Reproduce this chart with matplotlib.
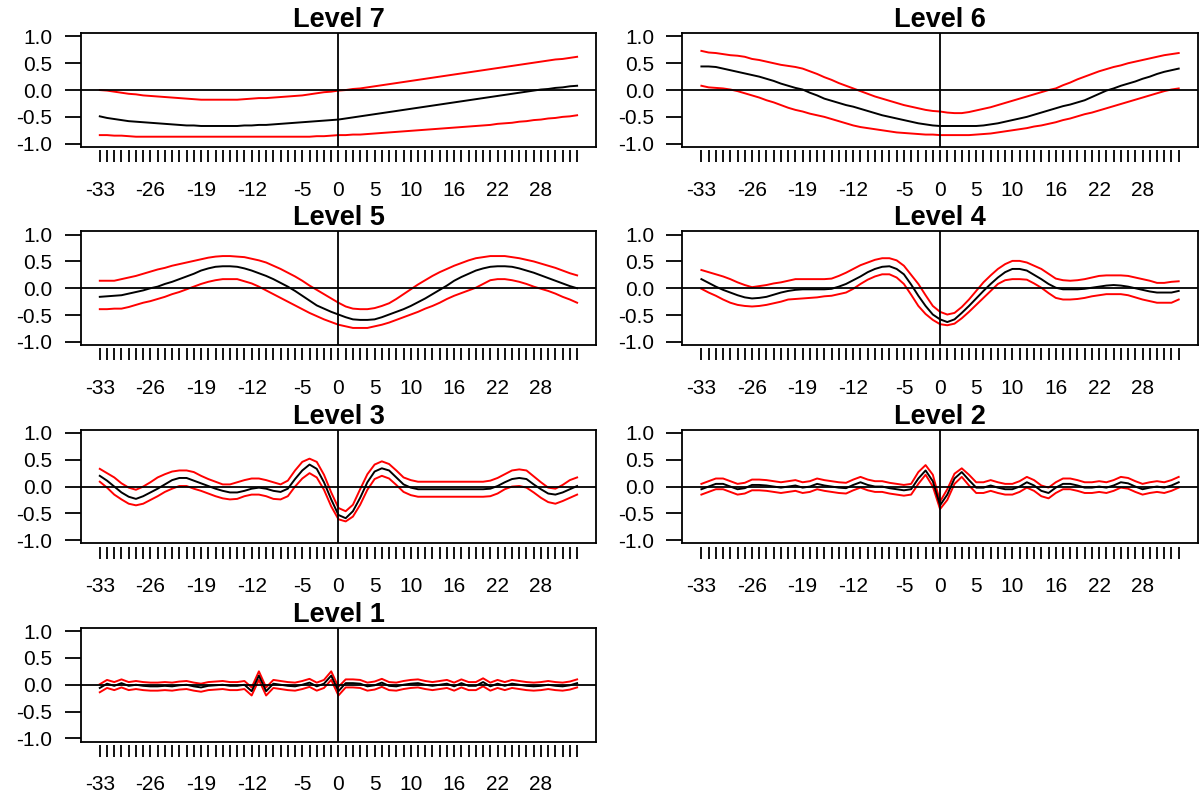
import matplotlib
matplotlib.use("Agg")
import matplotlib.pyplot as plt

plt.rcParams['font.family'] = ['Liberation Sans', 'DejaVu Sans']

lags = list(range(-33, 34))
label_lags = [-33, -26, -19, -12, -5, 0, 5, 10, 16, 22, 28]
ytick_vals = [-1.0, -0.5, 0.0, 0.5, 1.0]
ytick_labels = ["-1.0", "-0.5", "0.0", "0.5", "1.0"]
titles = ["Level 7", "Level 6", "Level 5", "Level 4", "Level 3", "Level 2", "Level 1"]

L7_est = [-0.49, -0.52, -0.54, -0.56, -0.58, -0.59, -0.60, -0.61, -0.62, -0.63, -0.64, -0.65, -0.66, -0.66, -0.67, -0.67, -0.67,
          -0.67, -0.67, -0.67, -0.66, -0.66, -0.65, -0.65, -0.64, -0.63, -0.62, -0.61, -0.60, -0.59, -0.58, -0.57, -0.56,
          -0.55, -0.53, -0.51, -0.49, -0.47, -0.45, -0.43, -0.41, -0.39, -0.37, -0.35, -0.33, -0.31, -0.29, -0.27, -0.25,
          -0.23, -0.21, -0.19, -0.17, -0.15, -0.13, -0.11, -0.09, -0.07, -0.05, -0.03, -0.01, 0.01, 0.02, 0.04, 0.05, 0.07, 0.08]
L7_up = [0.00, -0.01, -0.03, -0.05, -0.07, -0.08, -0.10, -0.11, -0.12, -0.13, -0.14, -0.15, -0.16, -0.17, -0.18, -0.18, -0.18,
         -0.18, -0.18, -0.18, -0.17, -0.16, -0.15, -0.15, -0.14, -0.13, -0.12, -0.11, -0.10, -0.08, -0.06, -0.04, -0.03,
         -0.01, 0.00, 0.02, 0.03, 0.05, 0.07, 0.09, 0.11, 0.13, 0.15, 0.17, 0.19, 0.21, 0.23, 0.25, 0.27,
         0.29, 0.31, 0.33, 0.35, 0.37, 0.39, 0.41, 0.43, 0.45, 0.47, 0.49, 0.51, 0.53, 0.55, 0.57, 0.58, 0.60, 0.62]
L7_lo = [-0.84, -0.84, -0.85, -0.85, -0.86, -0.87, -0.87, -0.87, -0.87, -0.87, -0.87, -0.87, -0.87, -0.87, -0.87, -0.87, -0.87,
         -0.87, -0.87, -0.87, -0.87, -0.87, -0.87, -0.87, -0.87, -0.87, -0.87, -0.87, -0.87, -0.87, -0.86, -0.86, -0.85,
         -0.84, -0.84, -0.83, -0.83, -0.82, -0.81, -0.80, -0.79, -0.78, -0.77, -0.76, -0.75, -0.74, -0.73, -0.72, -0.71,
         -0.70, -0.69, -0.68, -0.67, -0.66, -0.65, -0.63, -0.62, -0.61, -0.59, -0.58, -0.56, -0.55, -0.53, -0.52, -0.50, -0.49, -0.47]

L6_est = [0.44, 0.44, 0.43, 0.40, 0.37, 0.34, 0.31, 0.28, 0.25, 0.21, 0.17, 0.12, 0.08, 0.04, 0.01, -0.05, -0.10,
          -0.16, -0.20, -0.24, -0.28, -0.31, -0.35, -0.39, -0.43, -0.47, -0.50, -0.53, -0.56, -0.59, -0.62, -0.64, -0.66,
          -0.67, -0.67, -0.67, -0.67, -0.67, -0.67, -0.66, -0.64, -0.62, -0.59, -0.56, -0.53, -0.50, -0.46, -0.42, -0.38,
          -0.34, -0.30, -0.27, -0.23, -0.19, -0.13, -0.07, -0.01, 0.03, 0.08, 0.12, 0.16, 0.21, 0.25, 0.30, 0.34, 0.37, 0.40]
L6_up = [0.73, 0.70, 0.69, 0.67, 0.65, 0.64, 0.62, 0.58, 0.56, 0.53, 0.50, 0.47, 0.45, 0.43, 0.40, 0.35, 0.30,
         0.24, 0.19, 0.13, 0.08, 0.03, -0.02, -0.07, -0.12, -0.16, -0.20, -0.24, -0.28, -0.31, -0.34, -0.37, -0.39,
         -0.40, -0.42, -0.43, -0.43, -0.41, -0.38, -0.35, -0.32, -0.28, -0.24, -0.20, -0.16, -0.12, -0.08, -0.04, 0.00,
         0.03, 0.09, 0.14, 0.20, 0.25, 0.30, 0.35, 0.39, 0.43, 0.46, 0.50, 0.53, 0.56, 0.59, 0.62, 0.65, 0.67, 0.69]
L6_lo = [0.08, 0.05, 0.04, 0.03, 0.01, -0.02, -0.06, -0.10, -0.14, -0.19, -0.23, -0.28, -0.33, -0.37, -0.40, -0.44, -0.47,
         -0.50, -0.54, -0.58, -0.62, -0.66, -0.69, -0.71, -0.73, -0.75, -0.77, -0.79, -0.80, -0.81, -0.82, -0.83, -0.83,
         -0.84, -0.84, -0.84, -0.84, -0.84, -0.83, -0.82, -0.81, -0.79, -0.77, -0.75, -0.73, -0.71, -0.68, -0.66, -0.63,
         -0.60, -0.56, -0.53, -0.49, -0.45, -0.42, -0.38, -0.34, -0.30, -0.26, -0.22, -0.18, -0.14, -0.10, -0.06, -0.02, 0.01, 0.03]

L5_est = [-0.16, -0.15, -0.14, -0.13, -0.10, -0.07, -0.04, 0.00, 0.03, 0.08, 0.12, 0.17, 0.22, 0.27, 0.33, 0.37, 0.40,
          0.41, 0.41, 0.40, 0.37, 0.33, 0.28, 0.23, 0.17, 0.10, 0.03, -0.05, -0.14, -0.23, -0.32, -0.38, -0.44,
          -0.49, -0.54, -0.58, -0.59, -0.59, -0.58, -0.54, -0.49, -0.44, -0.39, -0.33, -0.26, -0.19, -0.11, -0.03, 0.05,
          0.14, 0.21, 0.27, 0.33, 0.37, 0.40, 0.41, 0.41, 0.40, 0.37, 0.33, 0.29, 0.24, 0.19, 0.14, 0.09, 0.04, 0.00]
L5_up = [0.14, 0.14, 0.14, 0.17, 0.20, 0.23, 0.27, 0.31, 0.35, 0.38, 0.42, 0.45, 0.48, 0.51, 0.54, 0.57, 0.59,
         0.60, 0.60, 0.59, 0.58, 0.55, 0.52, 0.48, 0.42, 0.36, 0.29, 0.22, 0.14, 0.05, -0.03, -0.11, -0.19,
         -0.27, -0.34, -0.38, -0.39, -0.39, -0.37, -0.33, -0.28, -0.20, -0.11, -0.02, 0.07, 0.15, 0.23, 0.30, 0.36,
         0.42, 0.47, 0.52, 0.56, 0.58, 0.60, 0.60, 0.60, 0.58, 0.56, 0.53, 0.50, 0.46, 0.42, 0.38, 0.33, 0.28, 0.24]
L5_lo = [-0.39, -0.39, -0.38, -0.38, -0.35, -0.31, -0.27, -0.24, -0.20, -0.16, -0.11, -0.07, -0.02, 0.03, 0.08, 0.12, 0.15,
         0.17, 0.17, 0.17, 0.13, 0.09, 0.03, -0.04, -0.11, -0.18, -0.25, -0.32, -0.39, -0.46, -0.52, -0.58, -0.63,
         -0.68, -0.71, -0.74, -0.74, -0.74, -0.71, -0.68, -0.64, -0.59, -0.54, -0.49, -0.44, -0.38, -0.33, -0.27, -0.20,
         -0.14, -0.09, -0.04, 0.01, 0.08, 0.15, 0.17, 0.17, 0.15, 0.12, 0.08, 0.03, -0.01, -0.05, -0.10, -0.16, -0.21, -0.27]

L4_est = [0.17, 0.10, 0.03, -0.03, -0.08, -0.13, -0.17, -0.19, -0.18, -0.16, -0.12, -0.08, -0.05, -0.03, -0.02, -0.02, -0.02,
          -0.02, -0.01, 0.03, 0.08, 0.15, 0.22, 0.30, 0.36, 0.40, 0.41, 0.36, 0.26, 0.07, -0.14, -0.33, -0.49,
          -0.58, -0.63, -0.58, -0.46, -0.33, -0.19, -0.05, 0.08, 0.20, 0.30, 0.36, 0.36, 0.33, 0.25, 0.17, 0.08,
          0.01, -0.02, -0.02, -0.02, -0.01, 0.01, 0.03, 0.05, 0.06, 0.05, 0.03, 0.00, -0.03, -0.06, -0.08, -0.08, -0.08, -0.05]
L4_up = [0.34, 0.30, 0.26, 0.22, 0.17, 0.11, 0.06, 0.02, 0.04, 0.06, 0.09, 0.11, 0.14, 0.17, 0.17, 0.17, 0.17,
         0.17, 0.18, 0.23, 0.29, 0.36, 0.43, 0.48, 0.53, 0.56, 0.56, 0.52, 0.42, 0.25, 0.08, -0.13, -0.33,
         -0.44, -0.49, -0.46, -0.35, -0.21, -0.05, 0.11, 0.24, 0.36, 0.45, 0.51, 0.51, 0.48, 0.42, 0.36, 0.27,
         0.18, 0.15, 0.14, 0.15, 0.17, 0.20, 0.23, 0.24, 0.24, 0.24, 0.23, 0.20, 0.17, 0.14, 0.10, 0.10, 0.12, 0.13]
L4_lo = [-0.01, -0.08, -0.14, -0.21, -0.27, -0.31, -0.33, -0.34, -0.33, -0.31, -0.28, -0.25, -0.21, -0.20, -0.19, -0.18, -0.17,
         -0.15, -0.14, -0.11, -0.08, -0.01, 0.08, 0.16, 0.22, 0.26, 0.26, 0.20, 0.08, -0.12, -0.33, -0.48, -0.59,
         -0.67, -0.69, -0.66, -0.56, -0.44, -0.31, -0.18, -0.05, 0.08, 0.15, 0.17, 0.17, 0.16, 0.09, 0.01, -0.09,
         -0.18, -0.21, -0.21, -0.20, -0.18, -0.15, -0.13, -0.11, -0.11, -0.11, -0.13, -0.17, -0.21, -0.24, -0.27, -0.27, -0.27, -0.21]

L3_est = [0.20, 0.11, 0.00, -0.11, -0.19, -0.23, -0.18, -0.11, -0.04, 0.04, 0.12, 0.16, 0.16, 0.11, 0.06, 0.01, -0.04,
          -0.08, -0.11, -0.11, -0.08, -0.04, -0.02, -0.04, -0.08, -0.10, -0.04, 0.14, 0.30, 0.41, 0.33, 0.08, -0.24,
          -0.53, -0.59, -0.46, -0.21, 0.08, 0.28, 0.34, 0.30, 0.17, 0.04, -0.02, -0.05, -0.05, -0.05, -0.05, -0.05,
          -0.05, -0.05, -0.05, -0.05, -0.05, -0.04, 0.01, 0.08, 0.14, 0.16, 0.14, 0.04, -0.05, -0.13, -0.15, -0.11, -0.05, 0.01]
L3_up = [0.33, 0.25, 0.17, 0.06, -0.02, -0.06, 0.00, 0.08, 0.17, 0.23, 0.28, 0.30, 0.30, 0.27, 0.20, 0.14, 0.09,
         0.04, 0.04, 0.08, 0.12, 0.15, 0.15, 0.12, 0.08, 0.04, 0.11, 0.30, 0.46, 0.52, 0.46, 0.22, -0.11,
         -0.40, -0.46, -0.34, -0.05, 0.23, 0.41, 0.47, 0.42, 0.30, 0.17, 0.12, 0.09, 0.09, 0.09, 0.09, 0.09,
         0.09, 0.09, 0.09, 0.09, 0.09, 0.11, 0.16, 0.23, 0.30, 0.32, 0.30, 0.19, 0.08, -0.02, -0.04, 0.03, 0.12, 0.17]
L3_lo = [0.09, -0.02, -0.15, -0.24, -0.32, -0.35, -0.32, -0.25, -0.18, -0.10, -0.04, 0.01, 0.01, -0.04, -0.08, -0.13, -0.18,
         -0.22, -0.24, -0.23, -0.18, -0.15, -0.15, -0.18, -0.23, -0.24, -0.18, 0.00, 0.15, 0.25, 0.17, -0.06, -0.37,
         -0.61, -0.65, -0.56, -0.34, -0.06, 0.14, 0.20, 0.15, 0.03, -0.10, -0.16, -0.19, -0.19, -0.19, -0.19, -0.19,
         -0.19, -0.19, -0.19, -0.19, -0.19, -0.18, -0.13, -0.05, 0.00, 0.01, -0.02, -0.11, -0.21, -0.29, -0.32, -0.27, -0.21, -0.15]

L2_est = [-0.05, 0.00, 0.05, 0.05, 0.00, -0.05, -0.03, 0.03, 0.03, 0.02, 0.00, -0.02, 0.00, 0.02, -0.02, 0.00, 0.05,
          0.02, 0.00, -0.02, -0.03, 0.03, 0.08, 0.03, 0.00, 0.00, -0.03, -0.05, -0.07, -0.05, 0.15, 0.30, 0.10,
          -0.35, -0.15, 0.15, 0.27, 0.12, -0.02, -0.02, 0.02, -0.02, -0.05, -0.05, 0.00, 0.08, 0.02, -0.08, -0.12,
          -0.02, 0.05, 0.05, 0.02, -0.02, -0.02, 0.00, -0.02, 0.02, 0.08, 0.06, 0.00, -0.05, -0.02, 0.00, -0.02, 0.02, 0.08]
L2_up = [0.05, 0.10, 0.15, 0.15, 0.10, 0.05, 0.07, 0.13, 0.13, 0.12, 0.10, 0.08, 0.10, 0.12, 0.08, 0.10, 0.15,
         0.12, 0.10, 0.08, 0.07, 0.13, 0.18, 0.13, 0.10, 0.10, 0.07, 0.05, 0.03, 0.05, 0.27, 0.40, 0.22,
         -0.28, -0.05, 0.24, 0.34, 0.22, 0.08, 0.08, 0.12, 0.08, 0.05, 0.05, 0.10, 0.18, 0.12, 0.02, -0.02,
         0.08, 0.15, 0.15, 0.12, 0.08, 0.08, 0.10, 0.08, 0.12, 0.18, 0.16, 0.10, 0.05, 0.08, 0.10, 0.08, 0.12, 0.18]
L2_lo = [-0.15, -0.10, -0.05, -0.05, -0.10, -0.15, -0.13, -0.07, -0.07, -0.08, -0.10, -0.12, -0.10, -0.08, -0.12, -0.10, -0.05,
         -0.08, -0.10, -0.12, -0.13, -0.07, -0.02, -0.07, -0.10, -0.10, -0.13, -0.15, -0.17, -0.15, 0.05, 0.22, 0.00,
         -0.42, -0.25, 0.05, 0.18, 0.02, -0.12, -0.12, -0.08, -0.12, -0.15, -0.15, -0.10, -0.02, -0.08, -0.18, -0.22,
         -0.12, -0.05, -0.05, -0.08, -0.12, -0.12, -0.10, -0.12, -0.08, -0.02, -0.04, -0.10, -0.15, -0.12, -0.10, -0.12, -0.08, -0.02]

L1_est = [-0.06, 0.02, -0.02, 0.03, -0.02, 0.00, -0.02, -0.03, -0.03, -0.02, -0.03, -0.01, 0.00, -0.03, -0.05, -0.02, -0.01,
          0.00, -0.02, -0.02, 0.00, -0.12, 0.17, -0.12, 0.02, 0.00, -0.02, -0.03, 0.00, 0.04, -0.03, 0.02, 0.17,
          -0.12, 0.03, 0.03, 0.02, -0.03, -0.01, 0.04, -0.02, -0.03, 0.00, 0.02, 0.03, 0.00, -0.02, 0.00, 0.02,
          -0.03, 0.03, -0.02, -0.02, 0.05, -0.03, 0.02, -0.02, 0.02, 0.00, -0.02, -0.03, -0.02, 0.00, -0.02, -0.03, -0.01, 0.03]
L1_up = [0.01, 0.09, 0.05, 0.10, 0.05, 0.07, 0.05, 0.04, 0.04, 0.05, 0.04, 0.06, 0.07, 0.04, 0.02, 0.05, 0.06,
         0.07, 0.05, 0.05, 0.07, -0.05, 0.25, -0.05, 0.09, 0.07, 0.05, 0.04, 0.07, 0.11, 0.04, 0.09, 0.25,
         -0.04, 0.10, 0.10, 0.09, 0.04, 0.06, 0.11, 0.05, 0.04, 0.07, 0.09, 0.10, 0.07, 0.05, 0.07, 0.09,
         0.04, 0.10, 0.05, 0.05, 0.12, 0.04, 0.09, 0.05, 0.09, 0.07, 0.05, 0.04, 0.05, 0.07, 0.05, 0.04, 0.06, 0.10]
L1_lo = [-0.14, -0.06, -0.10, -0.05, -0.10, -0.08, -0.10, -0.11, -0.11, -0.10, -0.11, -0.09, -0.08, -0.11, -0.13, -0.10, -0.09,
         -0.08, -0.10, -0.10, -0.08, -0.20, 0.09, -0.20, -0.06, -0.08, -0.10, -0.11, -0.08, -0.04, -0.11, -0.06, 0.09,
         -0.20, -0.05, -0.05, -0.06, -0.11, -0.09, -0.04, -0.10, -0.11, -0.08, -0.06, -0.05, -0.08, -0.10, -0.08, -0.06,
         -0.11, -0.05, -0.10, -0.10, -0.03, -0.11, -0.06, -0.10, -0.06, -0.08, -0.10, -0.11, -0.10, -0.08, -0.10, -0.11, -0.09, -0.05]

panels = [
    (L7_est, L7_up, L7_lo),
    (L6_est, L6_up, L6_lo),
    (L5_est, L5_up, L5_lo),
    (L4_est, L4_up, L4_lo),
    (L3_est, L3_up, L3_lo),
    (L2_est, L2_up, L2_lo),
    (L1_est, L1_up, L1_lo),
]

W, H = 1200, 801
fig = plt.figure(figsize=(W / 100, H / 100), dpi=100)

col_left = [80.7, 682.3]
col_width = 515.5
row_top = [33.3, 231.5, 429.8, 628.0]
row_h = 113.5

for i, (title, (est, up, lo)) in enumerate(zip(titles, panels)):
    r, c = divmod(i, 2)
    x0 = col_left[c] / W
    y0 = 1 - (row_top[r] + row_h) / H
    ax = fig.add_axes([x0, y0, col_width / W, row_h / H])
    ax.spines['bottom'].set_position(('outward', 2.5))
    ax.spines['bottom'].set_visible(False)
    for s in ['left', 'top', 'right']:
        ax.spines[s].set_linewidth(1.3)
    ax.plot([0, 1], [0, 0], transform=ax.transAxes, color='black', lw=1.3, clip_on=False)

    ax.plot(lags, up, color='#ff0000', lw=1.4)
    ax.plot(lags, lo, color='#ff0000', lw=1.4)
    ax.plot(lags, est, color='black', lw=1.4)
    ax.axhline(0, color='black', lw=1.3)
    ax.axvline(0, color='black', lw=1.3)
    ax.set_xlim(-35.64, 35.64)
    ax.set_ylim(-1.058, 1.058)
    ax.set_xticks(lags)
    ax.set_xticklabels([str(l) if l in label_lags else '' for l in lags])
    ax.set_yticks(ytick_vals)
    ax.set_yticklabels(ytick_labels)
    ax.tick_params(axis='x', length=8.4, width=1.3, pad=13.5, direction='out', labelsize=15)
    ax.tick_params(axis='y', length=11.3, width=1.3, pad=9.0, direction='out', labelsize=15)
    ax.set_title(title, fontsize=19.5, fontweight='bold', pad=-1)

fig.savefig('out.png', dpi=100)
